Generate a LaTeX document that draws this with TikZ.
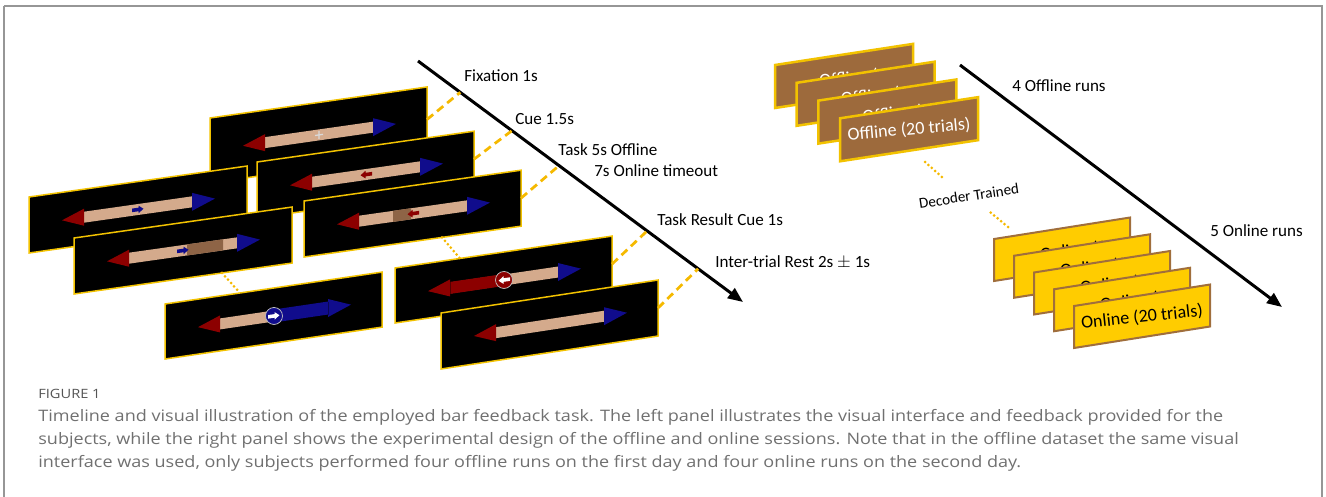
\documentclass[tikz,border=0pt]{standalone}
\usepackage{fontspec}
\setmainfont{Carlito}
\newfontfamily\capfont[FakeStretch=1.14]{Open Sans}
\usetikzlibrary{arrows.meta, calc}

\definecolor{scrgold}{RGB}{242,194,0}
\definecolor{dashgold}{RGB}{245,185,0}
\definecolor{bartan}{RGB}{212,170,140}
\definecolor{barred}{RGB}{140,0,0}
\definecolor{barblue}{RGB}{16,12,140}
\definecolor{barbrown}{RGB}{142,100,70}
\definecolor{offbrown}{RGB}{157,106,60}
\definecolor{onyellow}{RGB}{255,204,0}
\definecolor{onedge}{RGB}{160,110,60}
\definecolor{capgrey}{RGB}{112,112,112}
\definecolor{framegrey}{RGB}{150,150,150}

% 막대 (중심 높이 #1)
\newcommand{\fbshaft}[1]{%
  \fill[bartan] (55,#1-5.5) rectangle (163,#1+5.5);
  \fill[barred] (33,#1) -- (55,#1-8.5) -- (55,#1+8.5) -- cycle;
  \fill[barblue] (186,#1) -- (163,#1-9) -- (163,#1+9) -- cycle;}
% 작은 화살표 (#1 높이, #2 색)
\newcommand{\cueleft}[2]{%
  \fill[#2] (103.5,#1) -- (108.5,#1-3.8) -- (108.5,#1-1.8) -- (115,#1-1.8)
    -- (115,#1+1.8) -- (108.5,#1+1.8) -- (108.5,#1+3.8) -- cycle;}
\newcommand{\cueright}[2]{%
  \fill[#2] (114.5,#1) -- (109.5,#1-3.8) -- (109.5,#1-1.8) -- (103,#1-1.8)
    -- (103,#1+1.8) -- (109.5,#1+1.8) -- (109.5,#1+3.8) -- cycle;}

\begin{document}
\begin{tikzpicture}[x=0.2mm, y=-0.2mm,
  screen/.style={fill=black, draw=scrgold, line width=0.3mm},
  link/.style={draw=dashgold, line width=0.55mm, dash pattern=on 1.6mm off 1mm},
  gap/.style={draw=dashgold, line width=0.6mm, dash pattern=on 0pt off 0.9mm, line cap=round},
  time/.style={line width=0.6mm, -{Triangle[length=3mm, width=2.4mm]}},
  lbl/.style={font=\fontsize{9.7}{11}\selectfont, inner sep=0, anchor=west},
  offcard/.style={fill=offbrown, draw=scrgold, line width=0.5mm},
  oncard/.style={fill=onyellow, draw=onedge, line width=0.4mm},
  cardtxt/.style={font=\fontsize{10.3}{12}\selectfont, inner sep=0},
  captxt/.style={font=\capfont\fontsize{9}{10}\selectfont, text=capgrey, inner sep=0, anchor=west}]
  \useasboundingbox (0,0) rectangle (1326,497);
  \draw[framegrey, line width=0.3mm] (4,6) -- (1322,6) -- (1322,497) (4,6) -- (4,497);

  % 시간축
  \coordinate (tl-a) at (418,61); \coordinate (tl-b) at (743,302);
  \draw[time] (tl-a) -- (tl-b);

  % 고정
  \begin{scope}[shift={(210,118)}, yslant=0.143]
    \filldraw[screen] (0,0) rectangle (217,65);
    \fbshaft{32.5}
    \draw[white!85!black, line width=0.25mm] (105,32.5) -- (113,32.5) (109,28.5) -- (109,36.5);
    \coordinate (fix-r) at (217,32.5);
  \end{scope}
  % 단서
  \begin{scope}[shift={(257,162)}, yslant=0.142]
    \filldraw[screen] (0,0) rectangle (217,56);
    \fbshaft{28}
    \cueleft{28}{barred}
    \coordinate (cue-r) at (217,28);
  \end{scope}
  % 과제 (왼쪽 열)
  \begin{scope}[shift={(29,197)}, yslant=0.142]
    \filldraw[screen] (0,0) rectangle (218,56);
    \fbshaft{28}
    \cueright{28}{barblue}
  \end{scope}
  \begin{scope}[shift={(74,238)}, yslant=0.142]
    \filldraw[screen] (0,0) rectangle (218,56);
    \fbshaft{28}
    \fill[barbrown] (113,22.5) rectangle (149,33.5);
    \cueright{28}{barblue}
    \coordinate (lt-b) at (148,56);
  \end{scope}
  % 과제 (오른쪽 열)
  \begin{scope}[shift={(304,201)}, yslant=0.142]
    \filldraw[screen] (0,0) rectangle (217,56);
    \fbshaft{28}
    \fill[barbrown] (89,22.5) rectangle (107,33.5);
    \cueleft{28}{barred}
    \coordinate (task-r) at (217,28);
    \coordinate (rt-b) at (138,56);
  \end{scope}
  % 결과: 오른쪽 성공
  \begin{scope}[shift={(165,304)}, yslant=0.147]
    \filldraw[screen] (0,0) rectangle (217,55);
    \fbshaft{28}
    \fill[barblue] (109,21.5) rectangle (163,34.5);
    \draw[barblue!60!black, line width=0.15mm] (163,21.5) -- (163,34.5);
    \node[circle, fill=barblue, draw=white!75!black, line width=0.15mm,
      minimum size=3.4mm, inner sep=0] (win-dot) at (109,28) {};
    \cueright{28}{white}
    \coordinate (win-t) at (75,0);
  \end{scope}
  % 결과: 왼쪽 실패
  \begin{scope}[shift={(395,268)}, yslant=0.147]
    \filldraw[screen] (0,0) rectangle (217,55);
    \fbshaft{28}
    \fill[barred] (55,22) rectangle (109,34);
    \draw[barred!60!black, line width=0.15mm] (55,22) -- (55,34);
    \node[circle, fill=barred, draw=white!75!black, line width=0.15mm,
      minimum size=3.4mm, inner sep=0] (fail-dot) at (109,28) {};
    \cueleft{28}{white}
    \coordinate (res-r) at (217,28);
    \coordinate (fail-t) at (65,0);
  \end{scope}
  % 휴식
  \begin{scope}[shift={(441,313)}, yslant=0.152]
    \filldraw[screen] (0,0) rectangle (217,56);
    \fbshaft{28}
    \coordinate (rest-r) at (217,28);
  \end{scope}

  % 시간축 연결선
  \draw[link] (fix-r) -- ($(tl-a)!0.13!(tl-b)$);
  \draw[link] (cue-r) -- ($(tl-a)!0.289!(tl-b)$);
  \draw[link] (task-r) -- ($(tl-a)!0.434!(tl-b)$);
  \draw[link] (res-r) -- ($(tl-a)!0.705!(tl-b)$);
  \draw[link] (rest-r) -- ($(tl-a)!0.862!(tl-b)$);
  \draw[gap] (lt-b) -- (win-t);
  \draw[gap] (rt-b) -- (fail-t);

  \node[lbl] (fix-lbl) at (464,76) {Fixation 1s};
  \node[lbl] (cue-lbl) at (515,119) {Cue 1.5s};
  \node[lbl] (task-lbl) at (558,150) {Task 5s Offline};
  \node[lbl] (time-lbl) at (594,171) {7s Online timeout};
  \node[lbl] (res-lbl) at (657,220) {Task Result Cue 1s};
  \node[lbl] (rest-lbl) at (715,262) {Inter-trial Rest 2s $\pm$ 1s};

  % 세션 설계
  \coordinate (run-a) at (960,65); \coordinate (run-b) at (1282,307);
  \draw[time] (run-a) -- (run-b);
  % 오프라인 런 (뒤쪽 카드 글자는 가려짐)
  \foreach \i in {0,1,2} {
    \begin{scope}[shift={(775+21.7*\i,65+17.8*\i)}, yslant=0.153]
      \filldraw[offcard] (0,0) rectangle (138,43);
      \clip (0,0) rectangle (138,43);
      \node[cardtxt, text=white, rotate=5, anchor=west] at (44,23) {Offline (20 trials)};
    \end{scope}
  }
  \begin{scope}[shift={(840,118.3)}, yslant=0.153]
    \filldraw[offcard] (0,0) rectangle (138,43);
    \node[cardtxt, text=white, rotate=5] (off-run) at (69,22) {Offline (20 trials)};
  \end{scope}
  % 온라인 런
  \foreach \i in {0,...,3} {
    \begin{scope}[shift={(994+20*\i,239+16.75*\i)}, yslant=0.158]
      \filldraw[oncard] (0,0) rectangle (136,42);
      \clip (0,0) rectangle (136,42);
      \node[cardtxt, rotate=6, anchor=west] at (46,23) {Online (20 trials)};
    \end{scope}
  }
  \begin{scope}[shift={(1074,306)}, yslant=0.158]
    \filldraw[oncard] (0,0) rectangle (136,42);
    \node[cardtxt, rotate=6] (on-run) at (68,22) {Online (20 trials)};
  \end{scope}
  \node[font=\fontsize{8.6}{10}\selectfont, rotate=8.5, inner sep=0] (dec) at (969,196) {Decoder Trained};
  \coordinate (off-gap) at (925,162); \coordinate (on-gap) at (1008,227);
  \draw[gap] (off-gap) -- ++(17,15);
  \draw[gap] (on-gap) -- ++(-18,-15);
  \node[lbl] (off-lbl) at (1012,86) {4 Offline runs};
  \node[lbl] (on-lbl) at (1210,231) {5 Online runs};

  % 설명문
  \node[captxt, font=\capfont\fontsize{7.3}{9}\selectfont, text=capgrey!75!black] (cap-head) at (38,394) {FIGURE 1};
  \node[captxt] (cap-1) at (38,417) {Timeline and visual illustration of the employed bar feedback task. The left panel illustrates the visual interface and feedback provided for the};
  \node[captxt] (cap-2) at (38,440) {subjects, while the right panel shows the experimental design of the offline and online sessions. Note that in the offline dataset the same visual};
  \node[captxt] (cap-3) at (38,463) {interface was used, only subjects performed four offline runs on the first day and four online runs on the second day.};
\end{tikzpicture}
\end{document}
